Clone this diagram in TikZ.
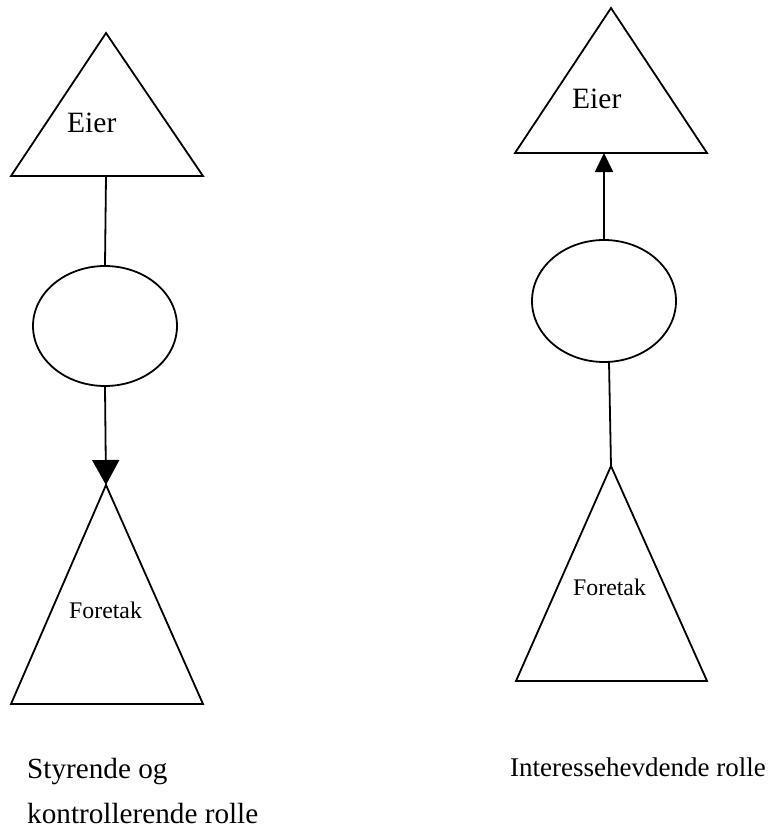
\documentclass[tikz,border=0pt]{standalone}
\usepackage{fontspec}
\setmainfont{Liberation Serif}
\usetikzlibrary{arrows.meta,shapes.geometric}
\begin{document}
\begin{tikzpicture}[x=1pt,y=-1pt,
  shape line/.style={draw=black,line width=1.8pt,line join=miter},
  link/.style={draw=black,line width=1.8pt},
  lbl/.style={inner sep=0pt,anchor=base west},
  big/.style={lbl,font=\fontsize{29.5}{35}\selectfont},
  small/.style={lbl,font=\fontsize{23.8}{28}\selectfont},
  caption/.style={lbl,font=\fontsize{29.2}{35}\selectfont}]
\useasboundingbox (0,0) rectangle (779,830);

% left column: owner steers and controls the enterprise
\coordinate (LtA) at (106,33);
\coordinate (LtB) at (106,176);
\draw[shape line] (LtA) -- (203,176) -- (11,176) -- cycle;
\node[big] (LtEier) at (67,132) {Eier};

\node[shape line,ellipse,minimum width=144pt,minimum height=120pt,inner sep=0pt] (LEll) at (105,326) {};

\coordinate (LbA) at (106,485);
\draw[shape line] (LbA) -- (203,704) -- (11,704) -- cycle;
\node[small] (LbForetak) at (69,618) {Foretak};

\draw[link] (LtB) -- (LEll.north);
\draw[link,-{Triangle[width=27pt,length=25pt]}] (LEll.south) -- (LbA);

% right column: the enterprise's interests toward the owner
\coordinate (RtA) at (611,8);
\coordinate (RtB) at (604,153);
\draw[shape line] (RtA) -- (707,153) -- (515,153) -- cycle;
\node[big] (RtEier) at (572,108) {Eier};

\node[shape line,ellipse,minimum width=144pt,minimum height=122pt,inner sep=0pt] (REll) at (604,301) {};
\coordinate (REllB) at (609,362);

\coordinate (RbA) at (611,466);
\draw[shape line] (RbA) -- (707,681) -- (516,681) -- cycle;
\node[small] (RbForetak) at (573,595) {Foretak};

\draw[link,-{Triangle[width=18pt,length=19pt]}] (REll.north) -- (RtB);
\draw[link] (REllB) -- (RbA);

% captions
\node[caption] (capL1) at (27,778) {Styrende og};
\node[caption] (capL2) at (27,823) {kontrollerende rolle};
\node[caption,font=\fontsize{27}{32}\selectfont] (capR) at (510,776) {Interessehevdende rolle};
\end{tikzpicture}
\end{document}
